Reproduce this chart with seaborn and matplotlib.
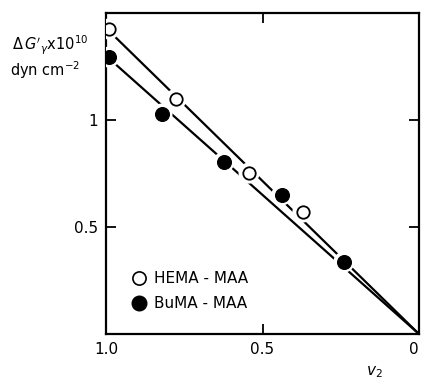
import matplotlib
matplotlib.use("Agg")
import matplotlib.pyplot as plt
import seaborn as sns
import pandas as pd
from matplotlib.lines import Line2D

# data
hema_v2 = [0.99, 0.776, 0.543, 0.371]
hema_dg = [1.425, 1.098, 0.752, 0.570]
buma_v2 = [0.99, 0.821, 0.623, 0.438, 0.240]
buma_dg = [1.294, 1.028, 0.804, 0.650, 0.336]
fit_v2 = [1.0, 0.0]
hema_fit = [1.43, 0.0]
buma_fit = [1.30, 0.0]
xticks = [1.0, 0.5, 0.0]
xticklabels = ["1.0", "0.5", "0"]
yticks = [0.5, 1.0]
yticklabels = ["0.5", "1"]

sns.set_style("ticks")
plt.rcParams['font.family'] = ['DejaVu Sans']
plt.rcParams['text.color'] = 'black'
plt.rcParams['xtick.color'] = 'black'
plt.rcParams['ytick.color'] = 'black'
plt.rcParams['axes.edgecolor'] = 'black'

fig = plt.figure(figsize=(4.21, 3.80), dpi=100)
ax = fig.add_axes([106/421, 46/380, 313/421, 321/380])

fits = pd.DataFrame({"v2": fit_v2 + fit_v2,
                     "dg": hema_fit + buma_fit,
                     "s": ["HEMA"] * 2 + ["BuMA"] * 2})
sns.lineplot(data=fits, x="v2", y="dg", units="s", estimator=None,
             color="black", lw=1.6, ax=ax, legend=False)

hema = pd.DataFrame({"v2": hema_v2, "dg": hema_dg})
buma = pd.DataFrame({"v2": buma_v2, "dg": buma_dg})
# white halos to break the lines around markers
for d in (hema, buma):
    sns.scatterplot(data=d, x="v2", y="dg", s=230, color="white",
                    edgecolor="none", ax=ax, legend=False, zorder=3)
sns.scatterplot(data=hema, x="v2", y="dg", s=80, facecolor="white",
                edgecolor="black", linewidth=1.3, ax=ax, legend=False, zorder=4)
sns.scatterplot(data=buma, x="v2", y="dg", s=100, color="black",
                edgecolor="black", ax=ax, legend=False, zorder=4)

ax.set_xlim(1.0, 0.0)
ax.set_ylim(0, 1.5)
ax.set_xticks(xticks)
ax.set_xticklabels(xticklabels)
ax.set_yticks(yticks)
ax.set_yticklabels(yticklabels)
ax.tick_params(direction="in", length=7, width=1.3, labelsize=11,
               top=True, right=True, pad=6)
ax.get_xticklabels()[-1].set_horizontalalignment("right")
ax.set_xlabel("")
ax.set_ylabel("")
for sp in ax.spines.values():
    sp.set_linewidth(1.6)
    sp.set_visible(True)

handles = [Line2D([], [], ls="none", marker="o", ms=9.5, mfc="white",
                  mec="black", mew=1.2),
           Line2D([], [], ls="none", marker="o", ms=10.5, mfc="black",
                  mec="black")]
ax.legend(handles, ["HEMA - MAA", "BuMA - MAA"], loc="upper left",
          bbox_to_anchor=(0.06, 0.215), frameon=False, fontsize=11,
          handletextpad=0.5, labelspacing=0.65, handlelength=1.0,
          borderaxespad=0)

fig.text(12/421, 1 - 45/380, r"$\Delta\,G'_\gamma$x10$^{10}$", fontsize=10.5,
         va="center", ha="left")
fig.text(10/421, 1 - 70/380, r"dyn cm$^{-2}$", fontsize=10.5,
         va="center", ha="left")
fig.text(374/421, 1 - 372/380, r"$v_2$", fontsize=11, va="center", ha="center")

fig.savefig("out.png", dpi=100)
